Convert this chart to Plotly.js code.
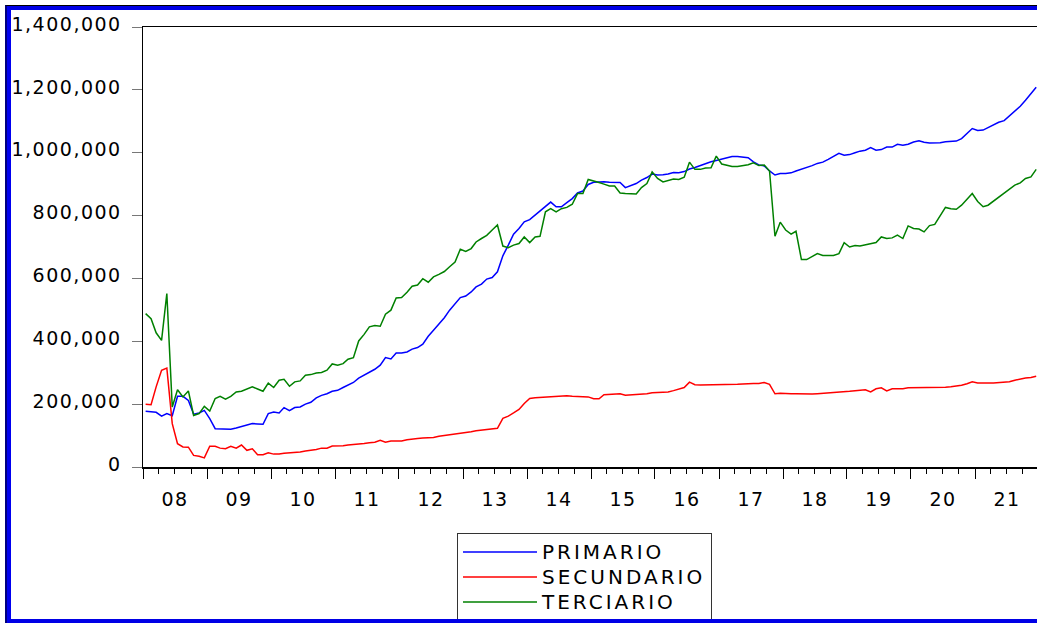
<!DOCTYPE html>
<html><head><meta charset="utf-8">
<script src="https://cdn.plot.ly/plotly-3.0.1.min.js"></script>
<style>
html,body{margin:0;padding:0;overflow:hidden;background:#fff;width:1037px;height:623px;}
#chart{position:absolute;left:0;top:0;width:1040px;height:623px;}
#frame{position:absolute;left:5px;top:5px;width:1100px;height:618px;box-sizing:border-box;border-left:2px solid #000080;border-top:1px solid #000;pointer-events:none;}
#frame2{position:absolute;left:0;top:0;right:0;bottom:0;border-left:4px solid #0000f0;border-top:4px solid #0000e6;border-bottom:4px solid #0000e6;pointer-events:none;}
.ytick text,.xtick text{letter-spacing:1.5px}
.legendtext{letter-spacing:3px;font-size:20px !important}
</style></head>
<body>
<div id="chart"></div>
<div id="frame"><div id="frame2"></div></div>
<script>
// Monthly data, 2008M01 - 2021M12 (values in thousands)
const startYear = 2008;
const nYears = 14;
const seriesNames = ['PRIMARIO', 'SECUNDARIO', 'TERCIARIO'];
const seriesColors = ['#0000ff', '#ff0000', '#008000'];

const primario = [
  177,176,174,162,170,163,225,225,212,168,172,180,
  154,122,122,120,120,124,129,133,138,137,136,170,
  175,172,189,179,189,191,200,206,220,228,233,241,
  244,253,260,269,283,292,302,311,324,348,344,363,
  363,366,375,380,391,416,435,454,475,499,518,539,
  544,557,573,582,598,603,621,672,706,741,759,780,
  787,801,814,830,843,828,828,841,854,872,878,899,
  906,907,908,906,905,905,889,896,902,913,921,932,
  929,930,932,937,936,940,948,953,959,966,971,975,
  979,984,988,988,987,984,971,961,958,942,929,934,
  934,936,942,947,952,959,966,970,979,989,998,992,
  994,1000,1005,1008,1016,1008,1010,1018,1018,1027,1024,1027,
  1034,1038,1033,1031,1031,1032,1035,1036,1037,1045,1063,1077,
  1071,1072,1080,1090,1097,1102,1117,1133,1148,1167,1187,1208
];
const secundario = [
  200,198,255,308,315,138,74,64,63,37,34,29,
  66,66,60,58,66,60,70,53,58,39,39,45,
  41,41,44,45,45,48,51,53,56,60,60,67,
  67,68,70,71,73,75,77,79,85,79,83,83,
  83,87,90,91,92,93,94,98,100,103,105,107,
  110,112,115,117,119,121,123,155,162,172,183,202,
  218,220,221,223,223,223,225,227,225,225,224,223,
  217,217,230,231,232,233,228,229,231,232,233,236,
  237,238,239,243,248,253,270,262,261,261,262,263,
  262,262,263,263,264,266,266,266,269,263,233,235,
  233,233,233,232,231,232,233,234,236,237,239,240,
  241,243,244,246,239,249,252,242,249,249,249,252,
  252,252,252,252,252,252,254,255,257,260,265,271,
  267,266,267,267,269,270,271,276,280,283,285,289
];
const terciario = [
  488,472,427,403,552,191,246,223,242,164,170,193,
  178,218,225,216,225,239,241,249,255,248,241,267,
  253,276,279,257,271,274,292,294,299,301,308,328,
  324,329,343,348,401,422,446,450,448,486,499,538,
  539,556,575,579,599,588,605,613,622,637,652,693,
  686,695,716,727,737,754,770,703,698,706,711,732,
  714,732,734,812,822,812,822,826,836,870,870,915,
  911,905,900,894,894,872,870,869,869,889,902,939,
  918,907,911,916,915,922,970,947,947,951,952,989,
  964,959,956,956,958,962,968,959,961,942,734,779,
  754,741,750,660,660,669,679,673,673,673,679,714,
  700,705,703,706,711,714,732,727,729,738,727,767,
  759,757,748,768,772,798,826,822,820,833,851,870,
  845,828,833,846,860,872,886,897,904,918,923,947
];

// month dates (mid-month)
const months = [];
for (let y = 0; y < nYears; y++) {
  for (let m = 1; m <= 12; m++) {
    months.push((startYear + y) + '-' + String(m).padStart(2, '0') + '-16');
  }
}
const UNIT = 1000;
const allSeries = [primario, secundario, terciario];

const traces = allSeries.map((s, i) => ({
  type: 'scatter', mode: 'lines',
  x: months, y: s.map(v => v * UNIT),
  name: seriesNames[i],
  line: {color: seriesColors[i], width: 1.5},
  hoverinfo: 'skip'
}));

const layout = {
  width: 1040, height: 623,
  margin: {l: 143, r: 1, t: 27, b: 156},
  paper_bgcolor: '#fff', plot_bgcolor: '#fff',
  font: {family: 'DejaVu Sans', size: 19, color: '#000'},
  showlegend: true,
  xaxis: {
    type: 'date',
    range: [startYear + '-01-01', (startYear + nYears) + '-01-01'],
    tick0: startYear + '-01-01', dtick: 'M12', tickformat: '%y',
    ticklabelmode: 'period',
    ticks: 'outside', ticklen: 10, tickwidth: 1, tickcolor: '#000',
    showline: true, linecolor: '#000', linewidth: 1.5, mirror: true,
    showgrid: false, zeroline: false,
    minor: {dtick: 'M3', ticks: 'outside', ticklen: 5, tickwidth: 1, tickcolor: '#000', showgrid: false},
    ticklabelstandoff: 5,
    tickfont: {family: 'DejaVu Sans', size: 19, color: '#000'}
  },
  yaxis: {
    range: [0, 1400000], dtick: 200000, tick0: 0, tickformat: ',d',
    ticks: 'outside', ticklen: 10, tickwidth: 1, tickcolor: '#777',
    showline: true, linecolor: '#000', linewidth: 1.5, mirror: true,
    showgrid: false, zeroline: false,
    ticklabelstandoff: 6, ticklabelshift: -3,
    tickfont: {family: 'DejaVu Sans', size: 19, color: '#000'}
  },
  legend: {
    x: (457 - 143) / 896, y: -(533 - 466.7) / 439.7,
    xanchor: 'left', yanchor: 'top',
    bordercolor: '#333', borderwidth: 1, bgcolor: '#fff',
    font: {family: 'DejaVu Sans', size: 17, color: '#000'},
    itemwidth: 74, tracegroupgap: 0
  }
};

Plotly.newPlot('chart', traces, layout, {displayModeBar: false, staticPlot: true});
</script>
</body></html>
